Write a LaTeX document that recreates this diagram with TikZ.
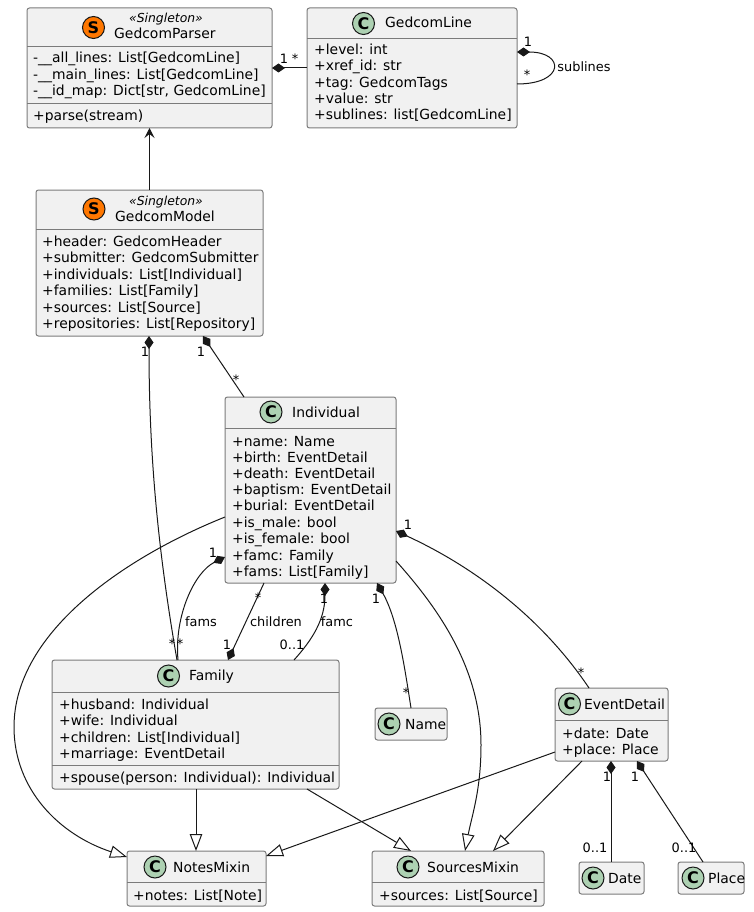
\documentclass[tikz,border=0pt]{standalone}
\usepackage{fontspec}
\setmainfont{DejaVu Sans}
\usetikzlibrary{calc,arrows.meta}
\definecolor{boxfill}{HTML}{F1F1F1}
\definecolor{boxline}{HTML}{7B7B7B}
\definecolor{spotc}{HTML}{ADD1B2}
\definecolor{spots}{HTML}{FF7700}
\definecolor{ink}{HTML}{181818}
\tikzset{
  x=1pt,y=-1pt,
  umlbox/.style={draw=boxline,fill=boxfill,line width=1pt,rounded corners=2.5pt,anchor=north west,inner sep=0pt,outer sep=0pt},
  sep/.style={draw=boxline,line width=1pt},
  member/.style={anchor=base west,inner sep=0pt,font=\fontsize{13.9}{15}\selectfont,text=black},
  title/.style={anchor=base west,inner sep=0pt,font=\fontsize{13.9}{15}\selectfont,text=black},
  stereo/.style={anchor=base,inner sep=0pt,font=\fontsize{12.4}{13}\selectfont\itshape,text=black},
  spot/.style={circle,draw=ink,line width=1pt,minimum size=22pt,inner sep=0pt,font=\fontsize{16}{16}\selectfont\bfseries},
  edge/.style={draw=ink,line width=1pt},
  lab/.style={inner sep=0pt,font=\fontsize{12.9}{13}\selectfont,text=black,anchor=base},
  comp/.style={-{Diamond[length=13pt,width=9pt,fill=ink]}},
  compstart/.style={{Diamond[length=13pt,width=9pt,fill=ink]}-},
  ext/.style={-{Triangle[open,length=17pt,width=12.5pt,fill=white]}},
  opn/.style={-{Stealth[length=10pt,width=10pt,inset=4pt,fill=ink]}},
}
\newcommand{\umlclass}[5]{% name x y w h
  \node[umlbox,minimum width=#4pt,minimum height=#5pt] (#1) at (#2,#3) {};}
\begin{document}
\begin{tikzpicture}
\useasboundingbox (0,0) rectangle (753,912);
% boxes
\umlclass{parser}{27}{8}{245}{120}
\umlclass{gline}{307}{8}{210}{120}
\umlclass{model}{36}{190}{227}{146}
\umlclass{indiv}{225}{397}{171}{186}
\umlclass{family}{52}{660}{287}{129}
\umlclass{namec}{375}{708}{72}{32}
\umlclass{event}{555}{688}{113}{73}
\umlclass{notes}{127}{851}{139}{55}
\umlclass{sources}{372}{851}{172}{55}
\umlclass{datec}{579}{862}{65}{32}
\umlclass{place}{678}{862}{66}{32}
% separators
\draw[sep] (27,47) -- (272,47) (27,104) -- (272,104);
\draw[sep] (307,39) -- (517,39);
\draw[sep] (36,229) -- (263,229);
\draw[sep] (225,428) -- (396,428);
\draw[sep] (52,692) -- (339,692) (52,765) -- (339,765);
\draw[sep] (555,720) -- (668,720);
\draw[sep] (127,882) -- (266,882);
\draw[sep] (372,882) -- (544,882);
% spots and titles
\node[spot,fill=spots] (s1) at (93.5,27.5) {S};
\node[stereo] (st1) at (166,23) {«Singleton»};
\node[title] (t1) at (114,39) {GedcomParser};
\node[spot,fill=spotc] (s2) at (363.5,23.5) {C};
\node[title] (t2) at (385,28) {GedcomLine};
\node[spot,fill=spots] (s3) at (94,209) {S};
\node[stereo] (st3) at (166,205) {«Singleton»};
\node[title] (t3) at (115,221) {GedcomModel};
\node[spot,fill=spotc] (s4) at (271,412) {C};
\node[title] (t4) at (292,417) {Individual};
\node[spot,fill=spotc] (s5) at (168.5,676) {C};
\node[title] (t5) at (189,680) {Family};
\node[spot,fill=spotc] (s6) at (389,724) {C};
\node[title] (t6) at (405,729) {Name};
\node[spot,fill=spotc] (s7) at (569.5,704) {C};
\node[title] (t7) at (584,709) {EventDetail};
\node[spot,fill=spotc] (s8) at (155,867) {C};
\node[title] (t8) at (173,872) {NotesMixin};
\node[spot,fill=spotc] (s9) at (408,867) {C};
\node[title] (t9) at (427,872) {SourcesMixin};
\node[spot,fill=spotc] (s10) at (593,878) {C};
\node[title] (t10) at (608,883) {Date};
\node[spot,fill=spotc] (s11) at (693,878) {C};
\node[title] (t11) at (708,883) {Place};
% members
\node[member] (m1) at (33,63) {-\_\_all\_lines: List[GedcomLine]};
\node[member] (m2) at (33,80) {-\_\_main\_lines: List[GedcomLine]};
\node[member] (m3) at (33,96) {-\_\_id\_map: Dict[str, GedcomLine]};
\node[member] (m4) at (33,121) {+parse(stream)};
\node[member] (m5) at (314,55) {+level: int};
\node[member] (m6) at (314,71) {+xref\_id: str};
\node[member] (m7) at (314,88) {+tag: GedcomTags};
\node[member] (m8) at (314,104) {+value: str};
\node[member] (m9) at (314,120) {+sublines: list[GedcomLine]};
\node[member] (m10) at (42,246) {+header: GedcomHeader};
\node[member] (m11) at (42,262) {+submitter: GedcomSubmitter};
\node[member] (m12) at (42,279) {+individuals: List[Individual]};
\node[member] (m13) at (42,295) {+families: List[Family]};
\node[member] (m14) at (42,312) {+sources: List[Source]};
\node[member] (m15) at (42,328) {+repositories: List[Repository]};
\node[member] (m16) at (232,446) {+name: Name};
\node[member] (m17) at (232,462) {+birth: EventDetail};
\node[member] (m18) at (232,478) {+death: EventDetail};
\node[member] (m19) at (232,494) {+baptism: EventDetail};
\node[member] (m20) at (232,510) {+burial: EventDetail};
\node[member] (m21) at (232,527) {+is\_male: bool};
\node[member] (m22) at (232,543) {+is\_female: bool};
\node[member] (m23) at (232,560) {+famc: Family};
\node[member] (m24) at (232,576) {+fams: List[Family]};
\node[member] (m25) at (59,709) {+husband: Individual};
\node[member] (m26) at (59,725) {+wife: Individual};
\node[member] (m27) at (59,742) {+children: List[Individual]};
\node[member] (m28) at (59,758) {+marriage: EventDetail};
\node[member] (m29) at (59,782) {+spouse(person: Individual): Individual};
\node[member] (m30) at (562,738) {+date: Date};
\node[member] (m31) at (562,754) {+place: Place};
\node[member] (m32) at (133,900) {+notes: List[Note]};
\node[member] (m33) at (379,900) {+sources: List[Source]};
% connectors
\draw[edge,compstart] (parser.east |- 0,68) -- (gline.west |- 0,68);
\draw[edge,opn] (model.north -| 149.5,0) -- (parser.south -| 149.5,0);
\draw[edge,compstart] (gline.east |- 0,52) .. controls (565,52) and (565,84) .. (gline.east |- 0,84);
\draw[edge,compstart] (model.south -| 203,0) -- (indiv.north -| 244,0);
\draw[edge,compstart] (model.south -| 149,0) .. controls (149,450) and (157,545) .. (family.north -| 177,0);
\draw[edge,compstart] (indiv.west |- 0,557) .. controls (195,572) and (174,615) .. (family.north -| 178,0);
\draw[edge,comp] (indiv.south -| 264,0) -- (family.north -| 228,0);
\draw[edge,compstart] (indiv.south -| 325,0) .. controls (325,620) and (312,640) .. (family.north -| 294,0);
\draw[edge,compstart] (indiv.south -| 377,0) .. controls (398,620) and (405,670) .. (namec.north -| 411,0);
\draw[edge,compstart] (indiv.east |- 0,531) .. controls (470,565) and (540,615) .. (event.north -| 589,0);
\draw[edge,ext] (indiv.west |- 0,517) .. controls (130,555) and (14,630) .. (14,727) .. controls (14,790) and (60,835) .. (notes.west |- 0,857);
\draw[edge,ext] (indiv.east |- 0,561) .. controls (440,610) and (481,670) .. (481,745) .. controls (481,790) and (472,815) .. (sources.north -| 465,0);
\draw[edge,ext] (family.south -| 196,0) -- (notes.north -| 196,0);
\draw[edge,ext] (family.south -| 307,0) -- (sources.north -| 411,0);
\draw[edge,ext] (event.west |- 0,752) -- (notes.east |- 0,856);
\draw[edge,ext] (event.south -| 582,0) -- (sources.north -| 493,0);
\draw[edge,compstart] (event.south -| 611,0) -- (datec.north -| 611,0);
\draw[edge,compstart] (event.south -| 637,0) -- (place.north -| 703,0);
% labels
\node[lab] (l1) at (284,64) {1};
\node[lab] (l2) at (295,64) {*};
\node[lab] (l3) at (528,47) {1};
\node[lab] (l4) at (527,80) {*};
\node[lab] (l5) at (584,72) {sublines};
\node[lab] (l6) at (201,356) {1};
\node[lab] (l7) at (236,384) {*};
\node[lab] (l8) at (145,356) {1};
\node[lab] (l9) at (172,648) {*};
\node[lab] (l10) at (213,557) {1};
\node[lab] (l11) at (180,648) {*};
\node[lab] (l12) at (201,626) {fams};
\node[lab] (l13) at (258,602) {*};
\node[lab] (l14) at (276,626) {children};
\node[lab] (l15) at (227,649) {1};
\node[lab] (l16) at (324,603) {1};
\node[lab] (l17) at (337,626) {famc};
\node[lab] (l18) at (292,649) {0..1};
\node[lab] (l19) at (376,603) {1};
\node[lab] (l20) at (406,697) {*};
\node[lab] (l21) at (408,529) {1};
\node[lab] (l22) at (581,677) {*};
\node[lab] (l23) at (607,781) {1};
\node[lab] (l24) at (635,781) {1};
\node[lab] (l25) at (595,852) {0..1};
\node[lab] (l26) at (684,852) {0..1};
\end{tikzpicture}
\end{document}
